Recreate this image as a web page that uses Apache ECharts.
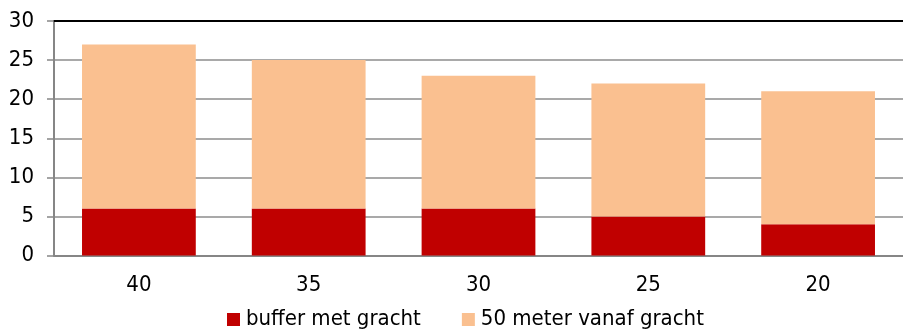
<!DOCTYPE html>
<html>
<head>
<meta charset="utf-8">
<script src="https://cdn.jsdelivr.net/npm/echarts@6/dist/echarts.min.js"></script>
<style>
  html, body { margin: 0; padding: 0; background: #fff; }
  #chart { width: 903px; height: 336px; }
</style>
</head>
<body>
<div id="chart"></div>
<script>
// Distance categories (metres) along the x axis
const categories = ['40', '35', '30', '25', '20'];
// Stacked segments
const bufferMetGracht = [6, 6, 6, 5, 4];
const vanafGracht50m = [21, 19, 17, 17, 17];
const seriesNames = ['buffer met gracht', '50 meter vanaf gracht'];
// Value axis range
const yMin = 0, yMax = 30, yStep = 5;

const FONT = '"DejaVu Sans Condensed", "DejaVu Sans", sans-serif';
const chart = echarts.init(document.getElementById('chart'), null, { renderer: 'canvas' });

chart.setOption({
  animation: false,
  grid: { left: 54, top: 21, width: 855, height: 234.5 },
  legend: {
    left: 222, top: 303.5,
    padding: 5,
    itemWidth: 13, itemHeight: 13, itemGap: 41,
    textStyle: { fontFamily: FONT, fontSize: 22, color: '#000', padding: [0, 0, 0, 1] },
    data: seriesNames.map(n => ({ name: n, icon: 'rect' }))
  },
  xAxis: [{
    type: 'category',
    data: categories,
    axisLine: { lineStyle: { color: '#868686', width: 2 } },
    axisTick: { length: 6, lineStyle: { color: '#868686', width: 1.5 } },
    axisLabel: { fontFamily: FONT, fontSize: 22, color: '#000', margin: 19 }
  }, {
    type: 'category',
    position: 'top',
    data: categories,
    axisLine: { lineStyle: { color: '#000', width: 2 } },
    axisTick: { show: false },
    axisLabel: { show: false }
  }],
  yAxis: {
    type: 'value',
    min: yMin, max: yMax, interval: yStep,
    axisLine: { show: true, lineStyle: { color: '#868686', width: 2 } },
    axisTick: { show: true, length: 7, lineStyle: { color: '#868686', width: 1.5 } },
    splitLine: { lineStyle: { color: '#8c8c8c', width: 1.5 } },
    axisLabel: { fontFamily: FONT, fontSize: 22, color: '#000', margin: 20 }
  },
  series: [{
    name: seriesNames[0],
    type: 'bar',
    stack: 'total',
    data: bufferMetGracht,
    barCategoryGap: '33%',
    itemStyle: { color: '#C00000' }
  }, {
    name: seriesNames[1],
    type: 'bar',
    stack: 'total',
    data: vanafGracht50m,
    barCategoryGap: '33%',
    itemStyle: { color: '#FAC090' }
  }]
});
</script>
</body>
</html>
